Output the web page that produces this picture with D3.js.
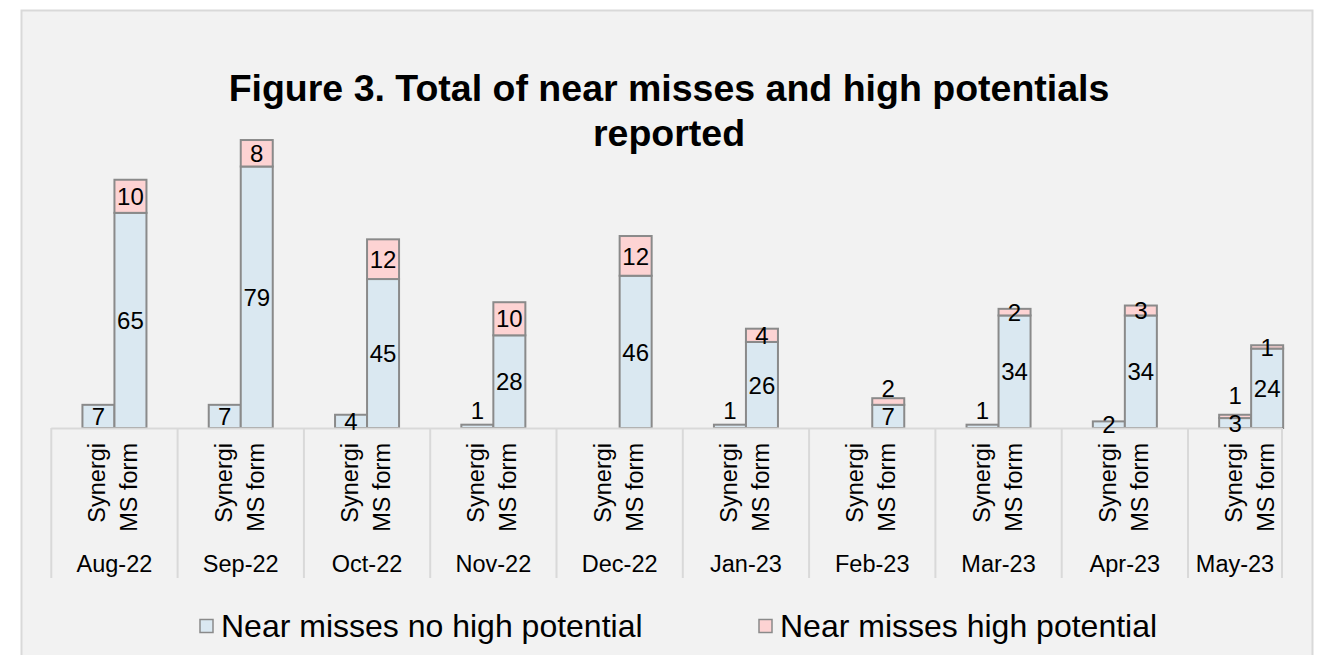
<!DOCTYPE html>
<html><head><meta charset="utf-8">
<script src="https://cdn.jsdelivr.net/npm/d3@7"></script>
<style>html,body{margin:0;padding:0;background:#fff;}svg{display:block;font-family:"Liberation Sans",Arial,sans-serif;}</style>
</head><body>
<svg id="c" width="1318" height="655"></svg>
<script>
const months = ["Aug-22","Sep-22","Oct-22","Nov-22","Dec-22","Jan-23","Feb-23","Mar-23","Apr-23","May-23"];
const sources = ["Synergi","MS form"];
const synergiNoHP = [7,7,4,1,0,1,0,1,2,3];
const synergiHP   = [0,0,0,0,0,0,0,0,0,1];
const msNoHP      = [65,79,45,28,46,26,7,34,34,24];
const msHP        = [10,8,12,10,12,4,2,2,3,1];
const seriesNames = ["Near misses no high potential","Near misses high potential"];
const titleLines = ["Figure 3. Total of near misses and high potentials","reported"];

const colors = ["#dae8f1","#fdd3d3"];
const strokeCol = "#8a8a8a";
const labelSize = 24;

const svg = d3.select("#c");
svg.append("rect").attr("x",21.5).attr("y",10.5).attr("width",1291).attr("height",660)
  .attr("fill","#f2f2f2").attr("stroke","#d9d9d9").attr("stroke-width",2);

const title = svg.append("text").attr("text-anchor","middle").attr("font-weight","bold")
  .attr("font-size",37.5).attr("fill","#000");
titleLines.forEach((t,i)=>title.append("tspan").attr("x",669).attr("y",101+i*45).text(t));

const plotLeft = 51.3, plotRight = 1282, step = 126.3;
const x = d3.scaleBand().domain(months).range([plotLeft, plotLeft + step*months.length]);
const xs = d3.scaleBand().domain(sources).range([0, x.bandwidth()]).paddingInner(0).paddingOuter(0.973);
const y = d3.scaleLinear().domain([0,90]).range([428,130.1]);

const rows = [];
months.forEach((m,i)=>{
  const vals = {"Synergi":[synergiNoHP[i],synergiHP[i]], "MS form":[msNoHP[i],msHP[i]]};
  sources.forEach(s=>{
    let base = 0;
    vals[s].forEach((v,k)=>{
      rows.push({m,s,k,v,y0:base,y1:base+v});
      base += v;
    });
  });
});

svg.append("g").selectAll("rect.bar").data(rows.filter(d=>d.v>0)).join("rect").attr("class","bar")
  .attr("x",d=>x(d.m)+xs(d.s)).attr("width",xs.bandwidth())
  .attr("y",d=>y(d.y1)).attr("height",d=>y(d.y0)-y(d.y1))
  .attr("fill",d=>colors[d.k]).attr("stroke",strokeCol).attr("stroke-width",2);

svg.append("line").attr("x1",plotLeft).attr("x2",plotRight).attr("y1",428.5).attr("y2",428.5)
  .attr("stroke","#d9d9d9").attr("stroke-width",2);
const bounds = months.map(m=>x(m)).concat([plotRight]);
svg.selectAll("line.sep").data(bounds).join("line").attr("class","sep")
  .attr("x1",d=>Math.min(d,plotRight)).attr("x2",d=>Math.min(d,plotRight))
  .attr("y1",428).attr("y2",578).attr("stroke","#d9d9d9").attr("stroke-width",2);

months.forEach(m=>{
  sources.forEach(s=>{
    const cx = x(m)+xs(s)+xs.bandwidth()/2 + 7;
    svg.append("text").attr("transform",`translate(${cx},443) rotate(-90)`)
      .attr("text-anchor","end").attr("font-size",23.5).attr("fill","#000").text(s);
  });
  const a = x(m), b = Math.min(x(m)+x.bandwidth(), plotRight);
  svg.append("text").attr("x",(a+b)/2).attr("y",571.5).attr("text-anchor","middle")
    .attr("font-size",23.5).attr("fill","#000").text(m);
});

const labelPos = {};
rows.filter(d=>d.v>0).forEach(d=>{
  let c = (y(d.y0)+y(d.y1))/2;
  const key = d.m+"|"+d.s;
  if (d.k===0 && (y(d.y0)-y(d.y1))<6) c = y(d.y1)-14;
  if (d.k===1 && labelPos[key]!==undefined && Math.abs(labelPos[key]-c)<20) c = labelPos[key]-28;
  labelPos[key] = c;
  svg.append("text").attr("x",x(d.m)+xs(d.s)+xs.bandwidth()/2).attr("y",c+labelSize*0.36)
    .attr("text-anchor","middle").attr("font-size",labelSize).attr("fill","#000").text(d.v);
});

const legX = [200, 759];
seriesNames.forEach((n,i)=>{
  svg.append("rect").attr("x",legX[i]).attr("y",619.5).attr("width",13).attr("height",13)
    .attr("fill",colors[i]).attr("stroke",strokeCol).attr("stroke-width",1.5);
  svg.append("text").attr("x",legX[i]+21).attr("y",636.5).attr("font-size",32)
    .attr("fill","#000").text(n);
});
</script>
</body></html>
